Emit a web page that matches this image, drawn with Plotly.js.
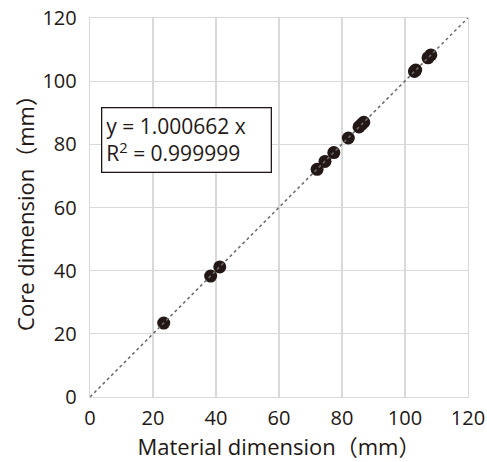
<!DOCTYPE html>
<html>
<head>
<meta charset="utf-8">
<script src="https://cdn.plot.ly/plotly-3.0.1.min.js"></script>
<style>html,body{margin:0;padding:0;background:#fff;}#chart{width:487px;height:462px;}</style>
</head>
<body>
<div id="chart"></div>
<script>
const materialDim = [23.4, 38.3, 41.2, 72.1, 74.6, 77.4, 82.0, 85.4, 86.2, 86.9, 103.0, 103.4, 107.3, 108.2];
const coreDim     = [23.4, 38.3, 41.2, 72.1, 74.6, 77.4, 82.0, 85.5, 86.3, 87.0, 103.1, 103.5, 107.4, 108.3];
const slope = 1.000662;
const trendX = [0, 120];
const tickVals = [0, 20, 40, 60, 80, 100, 120];
const tickText = ['0', '20', '40', '60', '80', '100', '120'];
const eqText = 'y = 1.000662 x<br>R<sup>2</sup> = 0.999999';

const fontFam = '"Open Sans", "Noto Sans CJK JP", sans-serif';
const textCol = '#231815';

const traces = [
  {
    x: materialDim, y: coreDim, type: 'scatter', mode: 'markers',
    marker: {size: 13, color: '#231815'}, hoverinfo: 'skip'
  },
  {
    x: trendX, y: trendX.map(v => v * slope), type: 'scatter', mode: 'lines',
    line: {color: '#6b6b6b', width: 1.5, dash: 'dot'}, hoverinfo: 'skip'
  }
];

const axisBase = {
  range: [0, 120], tickvals: tickVals, ticktext: tickText,
  showgrid: true, gridcolor: '#d9d9d9', gridwidth: 1.3,
  zeroline: false, showline: true, linecolor: '#d9d9d9', linewidth: 1.3, mirror: true,
  ticks: '', tickfont: {family: fontFam, size: 20, color: textCol}
};

const layout = {
  width: 487, height: 462,
  margin: {l: 90, r: 19, t: 18, b: 65},
  paper_bgcolor: '#fff', plot_bgcolor: '#fff',
  showlegend: false,
  xaxis: Object.assign({}, axisBase, {
    ticklabelstandoff: 3,
    title: {text: 'Material dimension（mm）', font: {family: fontFam, size: 22, color: textCol}, standoff: 0}
  }),
  yaxis: Object.assign({}, axisBase, {
    ticklabelstandoff: 8,
    title: {text: 'Core dimension（mm）', font: {family: fontFam, size: 22, color: textCol}, standoff: 1}
  }),
  annotations: [{
    xref: 'paper', yref: 'paper', x: 0.028, y: 0.766, xanchor: 'left', yanchor: 'top',
    text: eqText, showarrow: false, align: 'left', width: 160, height: 55,
    font: {family: fontFam, size: 21, color: textCol},
    bordercolor: '#231815', borderwidth: 1.3, borderpad: 4, bgcolor: '#fff'
  }]
};

Plotly.newPlot('chart', traces, layout, {displayModeBar: false, staticPlot: true});
</script>
</body>
</html>
